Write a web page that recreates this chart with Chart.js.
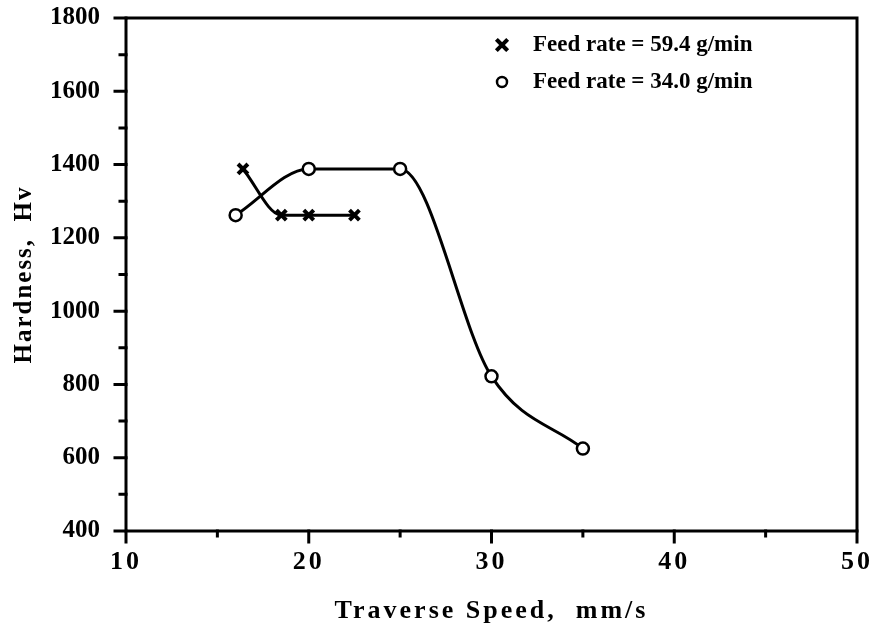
<!DOCTYPE html>
<html>
<head>
<meta charset="utf-8">
<script src="https://cdn.jsdelivr.net/npm/chart.js@4.4.1/dist/chart.umd.min.js"></script>
<style>
  html, body { margin: 0; padding: 0; background: #fff; }
  #wrap { width: 876px; height: 627px; }
</style>
</head>
<body>
<div id="wrap"><canvas id="mychart" width="876" height="627"></canvas></div>
<script>
// values
const seriesNames = ['Feed rate = 59.4 g/min', 'Feed rate = 34.0 g/min'];
const feed594Speed = [16.4, 18.5, 20, 22.5];
const feed594Hardness = [1388, 1262, 1262, 1262];
const feed340Speed = [16, 20, 25, 30, 35];
const feed340Hardness = [1262, 1388, 1388, 822, 625];
const xMin = 10, xMax = 50, xStep = 5, xLabelStep = 10;
const yMin = 400, yMax = 1800, yStep = 100, yLabelStep = 200;

const serif = "'Liberation Serif', 'Times New Roman', serif";

const toPoints = (xs, ys) => xs.map((x, i) => ({x: x, y: ys[i]}));

// wrap one of a scale's draw methods so its text gets letter spacing
const spaced = (scale, method, px) => {
    const flag = '_spaced_' + method;
    if (scale[flag]) return;
    const orig = scale[method];
    scale[method] = function () {
        this.ctx.save();
        this.ctx.letterSpacing = px + 'px';
        orig.apply(this, arguments);
        this.ctx.restore();
    };
    scale[flag] = true;
};

// frame box, outward ticks (long on labelled values) and the legend
const framePlugin = {
    id: 'frame',
    afterDraw(chart) {
        const ctx = chart.ctx;
        const a = chart.chartArea;
        const xs = chart.scales.x, ys = chart.scales.y;
        ctx.save();
        ctx.strokeStyle = '#000';
        ctx.lineWidth = 3;
        ctx.lineCap = 'square';
        ctx.strokeRect(a.left, a.top, a.right - a.left, a.bottom - a.top);
        ctx.beginPath();
        xs.ticks.forEach(t => {
            const px = xs.getPixelForValue(t.value);
            const len = (t.value % xLabelStep === 0) ? 11 : 5;
            ctx.moveTo(px, a.bottom);
            ctx.lineTo(px, a.bottom + len);
        });
        ys.ticks.forEach(t => {
            const py = ys.getPixelForValue(t.value);
            const len = (t.value % yLabelStep === 0) ? 11 : 6;
            ctx.moveTo(a.left, py);
            ctx.lineTo(a.left - len, py);
        });
        ctx.stroke();

        // legend
        ctx.font = 'bold 23px ' + serif;
        ctx.textBaseline = 'middle';
        ctx.textAlign = 'left';
        chart.data.datasets.forEach((ds, i) => {
            const y = a.top + 27 + i * 37;
            const mx = a.left + 376;
            ctx.lineWidth = ds.pointBorderWidth;
            ctx.strokeStyle = '#000';
            ctx.fillStyle = ds.pointBackgroundColor;
            Chart.helpers.drawPoint(ctx, {
                pointStyle: ds.pointStyle,
                radius: ds.pointStyle === 'circle' ? 5 : 6,
                borderWidth: ds.pointBorderWidth,
                rotation: 0
            }, mx, y);
            ctx.fillStyle = '#000';
            ctx.fillText(ds.label, a.left + 407, y);
        });
        ctx.restore();
    }
};

const data = {
    datasets: [
        {
            label: seriesNames[0],
            data: toPoints(feed594Speed, feed594Hardness),
            borderColor: '#000',
            borderWidth: 3,
            cubicInterpolationMode: 'monotone',
            pointStyle: 'crossRot',
            pointRadius: 7,
            pointBorderWidth: 4,
            pointBorderColor: '#000',
            pointBackgroundColor: '#000',
            fill: false
        },
        {
            label: seriesNames[1],
            data: toPoints(feed340Speed, feed340Hardness),
            borderColor: '#000',
            borderWidth: 3,
            cubicInterpolationMode: 'monotone',
            pointStyle: 'circle',
            pointRadius: 6,
            pointBorderWidth: 2.5,
            pointBorderColor: '#000',
            pointBackgroundColor: '#fff',
            fill: false
        }
    ]
};

const config = {
    type: 'line',
    data: data,
    plugins: [framePlugin],
    options: {
        responsive: false,
        animation: false,
        layout: {
            autoPadding: false,
            padding: {top: 18, right: 19, bottom: 0, left: 0}
        },
        plugins: {
            legend: {display: false},
            tooltip: {enabled: false}
        },
        scales: {
            x: {
                type: 'linear',
                min: xMin,
                max: xMax,
                grid: {display: false, drawTicks: false},
                border: {display: false},
                ticks: {
                    stepSize: xStep,
                    autoSkip: false,
                    maxRotation: 0,
                    padding: 16,
                    color: '#000',
                    font: {family: serif, size: 26, weight: 'bold'},
                    callback: v => (v % xLabelStep === 0) ? String(v) : ''
                },
                title: {
                    display: true,
                    text: 'Traverse Speed,  mm/s',
                    color: '#000',
                    padding: {top: 8, bottom: 0},
                    font: {family: serif, size: 26, weight: 'bold'}
                },
                afterFit: s => {
                    s.height = 96;
                    s.paddingLeft = 0;
                    s.paddingRight = 0;
                    spaced(s, 'drawLabels', 3);
                    spaced(s, 'drawTitle', 3);
                }
            },
            y: {
                min: yMin,
                max: yMax,
                grid: {display: false, drawTicks: false},
                border: {display: false},
                ticks: {
                    stepSize: yStep,
                    autoSkip: false,
                    padding: 26,
                    color: '#000',
                    font: {family: serif, size: 25, weight: 'bold'},
                    callback: v => (v % yLabelStep === 0) ? String(v) : ''
                },
                title: {
                    display: true,
                    text: 'Hardness,  Hv',
                    color: '#000',
                    padding: {top: 10, bottom: 0},
                    font: {family: serif, size: 25, weight: 'bold'}
                },
                afterFit: s => {
                    s.width = 126;
                    s.paddingTop = 0;
                    s.paddingBottom = 0;
                    spaced(s, 'drawTitle', 2);
                }
            }
        }
    }
};

const old = Chart.getChart('mychart');
if (old != undefined) {
    old.destroy();
}
const ctx = document.getElementById('mychart').getContext('2d');
new Chart(ctx, config);
</script>
</body>
</html>
